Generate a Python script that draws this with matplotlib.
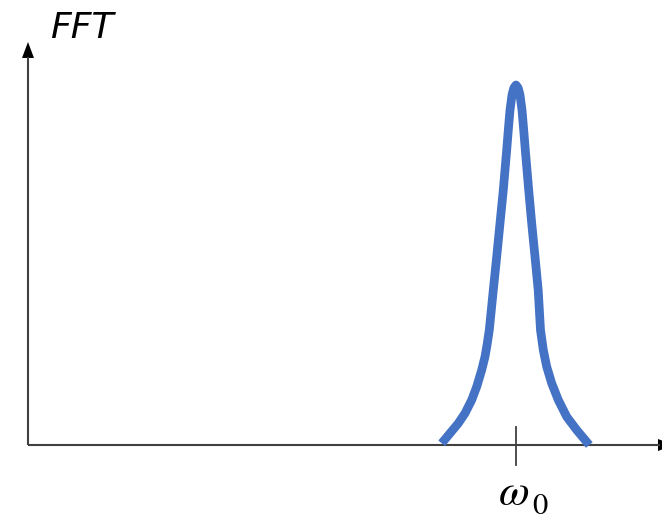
import matplotlib
matplotlib.use("Agg")
import matplotlib.pyplot as plt

# Spectrum curve samples (frequency, magnitude) in plot units
freq = [413.7, 422, 430.3, 437, 443.7, 448.7, 453.7, 457, 459.3, 461.3,
        465.3, 468.7, 472, 475.3, 477, 478.7, 480.3, 482, 484, 485.8,
        488,
        490.2, 492, 494, 495.7, 497.3, 499, 500.7, 503.7, 507, 510.2,
        512.5, 515.3, 518.7, 523.7, 530.3, 538.7, 548.7, 561.3]
mag = [1.7, 11.7, 21.7, 31.7, 45, 58.3, 75, 88.3, 101.7, 115,
       155, 188.3, 221.7, 255, 275, 295, 315, 335, 350, 357,
       360,
       357, 350, 335, 315, 295, 275, 255, 221.7, 188.3, 155,
       115, 95, 78.3, 61.7, 45, 28.3, 15, 0]
omega0 = 488
y_label = "FFT"
tick_symbol = r"$\omega$"
tick_index = "0"

W, H = 662, 521
plt.rcParams["mathtext.fontset"] = "stix"
fig = plt.figure(figsize=(W / 100, H / 100), dpi=100)
ax = fig.add_axes([0, 0, 1, 1])
ax.set_xlim(-28, W - 28)
ax.set_ylim(-(H - 445), 445)
ax.axis("off")

axis_color = "#404040"
# axes lines with arrow heads
ax.plot([0, 0], [0, 388], color=axis_color, lw=1.5, solid_capstyle="butt")
ax.plot([0, 632], [0, 0], color=axis_color, lw=1.5, solid_capstyle="butt")
ax.fill([-6, 6, 0], [387, 387, 403], color="black", lw=0)
ax.fill([630, 630, 646], [-6, 6, 0], color="black", lw=0, clip_on=False)

# tick at omega_0
ax.plot([omega0, omega0], [18, -20], color=axis_color, lw=1.3)

# spectrum peak
ax.plot(freq, mag, color="#4472C4", lw=6.3, solid_joinstyle="round",
        solid_capstyle="butt")

ax.text(22, 407, y_label, fontsize=26, style="italic", family="DejaVu Sans",
        ha="left", va="baseline")
ax.text(omega0 - 18, -60, tick_symbol, fontsize=32, ha="left", va="baseline")
ax.text(omega0 + 16, -69, tick_index, fontsize=22, family="STIXGeneral",
        ha="left", va="baseline")

fig.savefig("out.png", dpi=100)
